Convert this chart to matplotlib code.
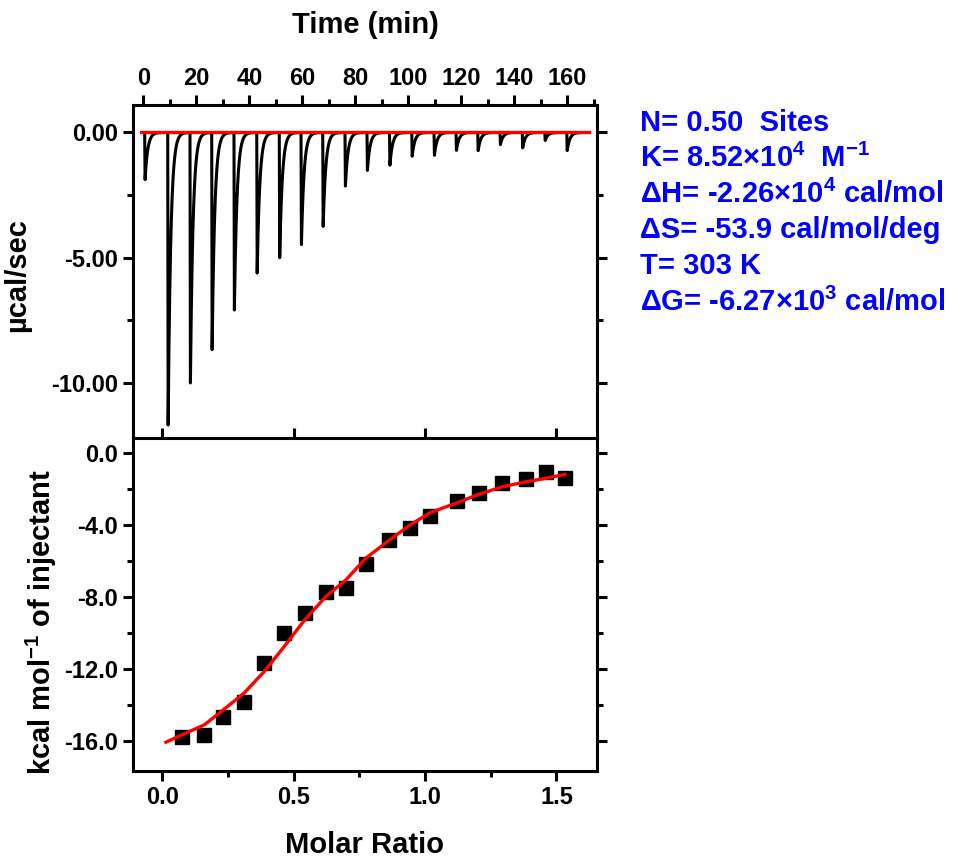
import numpy as np
import matplotlib
matplotlib.use("Agg")
import matplotlib.pyplot as plt
from matplotlib.ticker import MultipleLocator, FormatStrFormatter

# --- raw thermogram: injection times (min) and peak depths (ucal/sec) ---
inj_time = [0.5, 9.2, 17.6, 25.8, 34.2, 42.8, 51.3, 59.5, 67.7, 76.1,
            84.4, 92.9, 101.3, 109.7, 118.0, 126.2, 134.6, 143.0, 151.5, 159.8]
peak_depth = [-1.9, -11.8, -10.1, -8.76, -7.16, -5.67, -5.05, -4.52, -3.79, -2.16,
              -1.53, -1.32, -0.96, -0.92, -0.72, -0.73, -0.49, -0.62, -0.32, -0.73]
baseline_time = [-0.6, 168.3]
baseline_power = [0.0, 0.0]

# --- integrated heats ---
molar_ratio = [0.074, 0.160, 0.232, 0.311, 0.388, 0.464, 0.542, 0.622, 0.699, 0.774,
               0.864, 0.943, 1.019, 1.123, 1.204, 1.294, 1.385, 1.459, 1.532]
heat = [-15.79, -15.67, -14.65, -13.82, -11.69, -10.02, -8.91, -7.75, -7.53, -6.18,
        -4.85, -4.20, -3.49, -2.66, -2.22, -1.70, -1.48, -1.05, -1.39]

# --- fitted curve ---
fit_ratio = [0.014, 0.074, 0.160, 0.232, 0.311, 0.388, 0.464, 0.542, 0.622, 0.699,
             0.774, 0.864, 0.943, 1.019, 1.123, 1.204, 1.294, 1.385, 1.459, 1.532]
fit_heat = [-16.07, -15.67, -15.11, -14.28, -13.35, -12.15, -10.76, -9.28, -7.99, -7.06,
            -5.86, -4.85, -4.01, -3.33, -2.77, -2.31, -1.89, -1.61, -1.42, -1.20]

params = [
    "N= 0.50  Sites",
    r"K= 8.52×10$^{4}$  M$^{-1}$",
    r"ΔH= -2.26×10$^{4}$ cal/mol",
    "ΔS= -53.9 cal/mol/deg",
    "T= 303 K",
    r"ΔG= -6.27×10$^{3}$ cal/mol",
]

plt.rcParams['font.family'] = ['Liberation Sans', 'DejaVu Sans']
plt.rcParams['font.weight'] = 'bold'
plt.rcParams['axes.labelweight'] = 'bold'
plt.rcParams['axes.unicode_minus'] = False
plt.rcParams['mathtext.fontset'] = 'custom'
plt.rcParams['mathtext.rm'] = 'Liberation Sans:bold'
plt.rcParams['mathtext.bf'] = 'Liberation Sans:bold'
plt.rcParams['mathtext.it'] = 'Liberation Sans:bold:italic'
plt.rcParams['mathtext.default'] = 'rm'


def build_trace(times, depths, t):
    # sharp drop at each injection, fast exponential return to baseline
    p = np.zeros_like(t)
    for t0, d in zip(times, depths):
        rise = np.clip((t - t0) / 0.15, 0, 1)
        decay = np.exp(-np.clip(t - t0 - 0.15, 0, None) / 1.0)
        p += d * rise * decay
    return p


def main():
    fig = plt.figure(figsize=(9.59, 8.63), dpi=100)
    ax1 = fig.add_axes([0.1387, 0.4925, 0.4838, 0.3859])
    ax2 = fig.add_axes([0.1387, 0.1070, 0.4838, 0.3855])

    t = np.arange(baseline_time[0], baseline_time[1], 0.02)
    power = build_trace(inj_time, peak_depth, t)

    # 1. top panel: raw heat flow
    ax1.plot(t, power, color='black', lw=2.2, zorder=2)
    ax1.plot(baseline_time, baseline_power, color='red', lw=2.4, zorder=3)
    ax1.set_xlim(-3.9, 171.2)
    ax1.set_ylim(-12.2, 1.1)
    ax1.xaxis.tick_top()
    ax1.xaxis.set_label_position('top')
    ax1.xaxis.set_major_locator(MultipleLocator(20))
    ax1.xaxis.set_minor_locator(MultipleLocator(10))
    ax1.yaxis.set_major_locator(MultipleLocator(5))
    ax1.yaxis.set_minor_locator(MultipleLocator(2.5))
    ax1.yaxis.set_major_formatter(FormatStrFormatter('%.2f'))
    ax1.tick_params(axis='x', which='both', direction='out', top=True, bottom=False,
                    labeltop=True, labelbottom=False)
    ax1.tick_params(axis='y', which='both', direction='out', left=True, right=True)
    ax1.set_xlabel("Time (min)", fontsize=21, va='center')
    ax1.xaxis.set_label_coords(0.501, 1.24)
    ax1.set_ylabel("µcal/sec", fontsize=21, ha='center', va='center')
    ax1.yaxis.set_label_coords(-0.25, 0.49)

    # 2. bottom panel: integrated heats and fit
    ax2.plot(molar_ratio, heat, 's', color='black', ms=10, zorder=2)
    ax2.plot(fit_ratio, fit_heat, color='red', lw=2.4, zorder=3)
    ax2.set_xlim(-0.111, 1.654)
    ax2.set_ylim(-17.65, 0.82)
    ax2.xaxis.set_major_locator(MultipleLocator(0.5))
    ax2.xaxis.set_minor_locator(MultipleLocator(0.25))
    ax2.yaxis.set_major_locator(MultipleLocator(4))
    ax2.yaxis.set_minor_locator(MultipleLocator(2))
    ax2.xaxis.set_major_formatter(FormatStrFormatter('%.1f'))
    ax2.yaxis.set_major_formatter(FormatStrFormatter('%.1f'))
    ax2.tick_params(axis='x', which='major', direction='out', top=True, bottom=True)
    ax2.tick_params(axis='x', which='minor', direction='out', top=False, bottom=True)
    ax2.tick_params(axis='y', which='both', direction='out', left=True, right=True)
    ax2.set_xlabel("Molar Ratio", fontsize=21, va='center')
    ax2.xaxis.set_label_coords(0.5, -0.223)
    ax2.set_ylabel(r"kcal mol$^{-1}$ of injectant", fontsize=21, ha='center', va='center')
    ax2.yaxis.set_label_coords(-0.198, 0.447)

    for ax in (ax1, ax2):
        for s in ax.spines.values():
            s.set_linewidth(2.2)
        ax.tick_params(which='major', length=7, width=2.2, labelsize=17, pad=4)
        ax.tick_params(which='minor', length=4, width=2.2)

    # 3. fit parameters
    for i, line in enumerate(params):
        fig.text(640 / 959, 1 - (123 + 35.8 * i) / 863, line, color='#0000ff',
                 fontsize=21, fontweight='bold', ha='left', va='center')

    fig.savefig("out.png", dpi=100)
    plt.close(fig)


if __name__ == "__main__":
    main()
